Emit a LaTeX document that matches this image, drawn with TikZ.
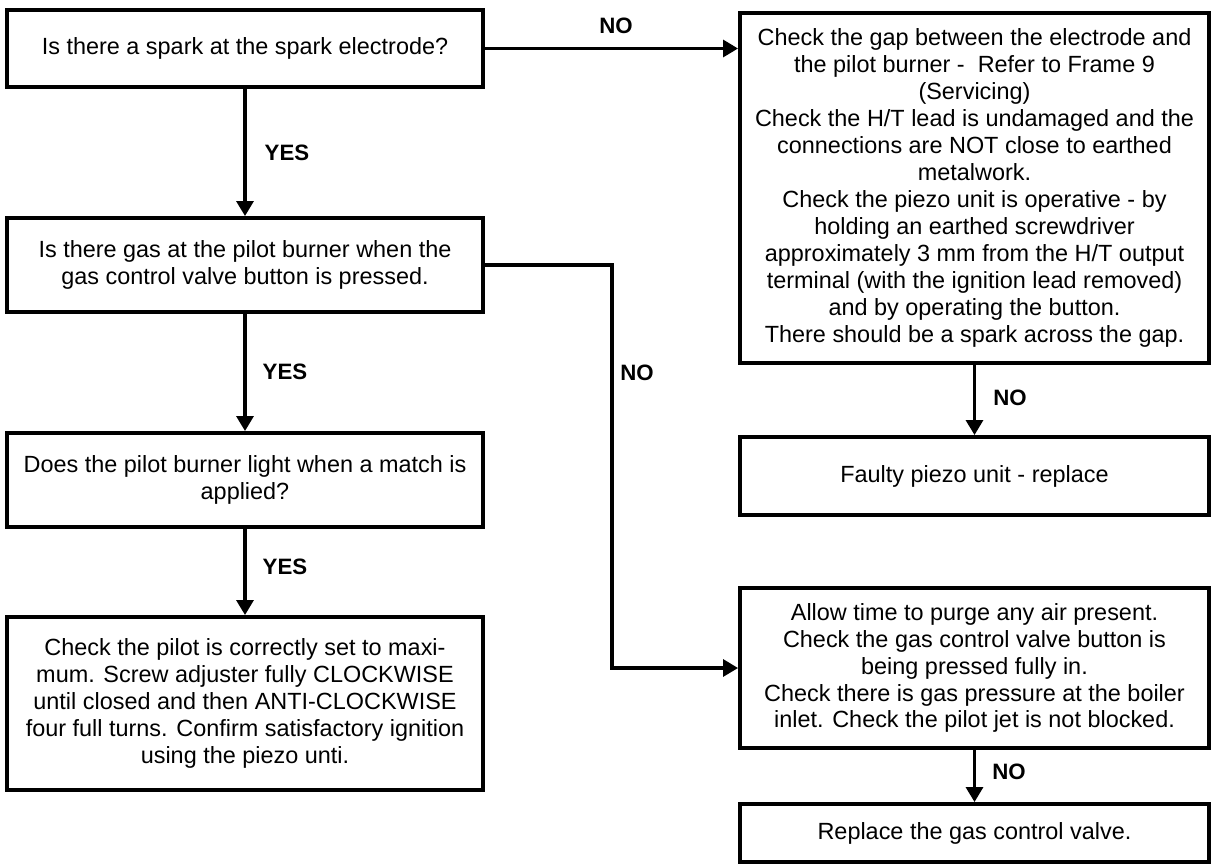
\documentclass[tikz,border=0pt]{standalone}
\usepackage{fontspec}
\setmainfont{Liberation Sans}
\usetikzlibrary{arrows.meta}

\begin{document}
\begin{tikzpicture}[x=0.03cm, y=-0.03cm, >={Triangle[length=0.45cm,width=0.5cm]},
    box/.style={draw, line width=3.2pt, align=center, inner sep=0pt,
        font=\fontsize{20}{23}\selectfont},
    leftbox/.style={box, minimum width=14.28cm},
    rightbox/.style={box, minimum width=14.07cm},
    answer/.style={font=\fontsize{19}{22}\selectfont\bfseries},
    link/.style={->, line width=3.2pt}]
    \useasboundingbox (0,0) rectangle (1212,865);

    % Left column: the questions
    \node[leftbox, minimum height=2.31cm] (spark) at (245,48.5)
        {Is there a spark at the spark electrode?};
    \node[leftbox, minimum height=2.82cm] (gas) at (245,265)
        {Is there gas at the pilot burner when the\\
         gas control valve button is pressed.};
    \node[leftbox, minimum height=2.82cm] (light) at (245,480)
        {Does the pilot burner light when a match is\\ applied?};
    \node[leftbox, minimum height=5.19cm] (pilot) at (245,703.5)
        {Check the pilot is correctly set to maxi-\\
         mum. Screw adjuster fully CLOCKWISE\\
         until closed and then ANTI-CLOCKWISE\\
         four full turns. Confirm satisfactory ignition\\
         using the piezo unti.};

    % Right column: the remedies
    \node[rightbox, minimum height=10.5cm] (gap) at (974.5,188)
        {Check the gap between the electrode and\\
         the pilot burner -\ \ Refer to Frame 9\\
         (Servicing)\\
         Check the H/T lead is undamaged and the\\
         connections are NOT close to earthed\\
         metalwork.\\
         Check the piezo unit is operative - by\\
         holding an earthed screwdriver\\
         approximately 3 mm from the H/T output\\
         terminal (with the ignition lead removed)\\
         and by operating the button.\\
         There should be a spark across the gap.};
    \node[rightbox, minimum height=2.34cm] (piezo) at (974.5,476)
        {Faulty piezo unit - replace};
    \node[rightbox, minimum height=4.8cm] (purge) at (974.5,668)
        {Allow time to purge any air present.\\
         Check the gas control valve button is\\
         being pressed fully in.\\
         Check there is gas pressure at the boiler\\
         inlet. Check the pilot jet is not blocked.};
    \node[rightbox, minimum height=1.74cm] (valve) at (974.5,833)
        {Replace the gas control valve.};

    % YES branches
    \draw[link] (spark) -- (gas);
    \node[answer] (yes1) at (287,153) {YES};
    \draw[link] (gas) -- (light);
    \node[answer] (yes2) at (285,372) {YES};
    \draw[link] (light) -- (pilot);
    \node[answer] (yes3) at (285,567) {YES};

    % NO branches
    \draw[link] (spark.east) -- (spark.east -| gap.west);
    \node[answer] (no1) at (616,26) {NO};
    \coordinate (bend) at (612,0);
    \draw[link] (gas.east) -- (gas.east -| bend) |- (purge.west);
    \node[answer] (no2) at (637,373) {NO};
    \draw[link] (gap) -- (piezo);
    \node[answer] (no3) at (1010,398) {NO};
    \draw[link] (purge) -- (valve);
    \node[answer] (no4) at (1009,772) {NO};
\end{tikzpicture}
\end{document}
